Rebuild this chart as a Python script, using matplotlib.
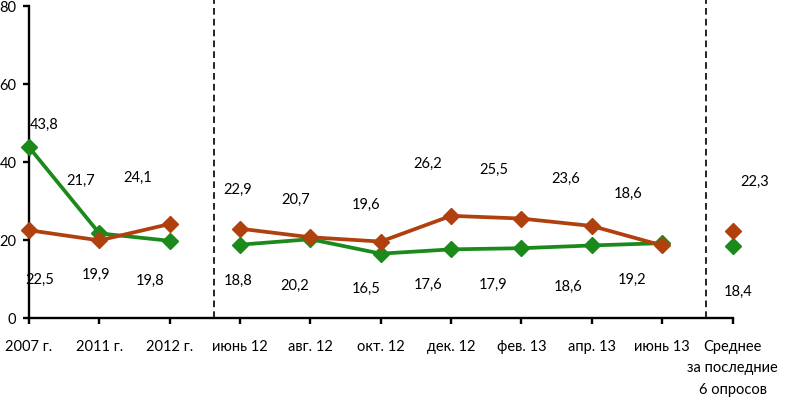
import matplotlib
matplotlib.use("Agg")
import matplotlib.pyplot as plt
from matplotlib import font_manager as fm
import numpy as np

categories = ["2007 г.", "2011 г.", "2012 г.", "июнь 12", "авг. 12", "окт. 12",
              "дек. 12", "фев. 13", "апр. 13", "июнь 13",
              "Среднее\nза последние\n6 опросов"]
green_values = [43.8, 21.7, 19.8, 18.8, 20.2, 16.5, 17.6, 17.9, 18.6, 19.2, 18.4]
red_values = [22.5, 19.9, 24.1, 22.9, 20.7, 19.6, 26.2, 25.5, 23.6, 18.6, 22.3]
y_ticks = [0, 20, 40, 60, 80]

# layout: line segments (start, stop) and dashed separators (category coords)
segments = [(0, 3), (3, 10), (10, 11)]
separators = [2.63, 9.63]

# label offsets in pixels (dx, dy upward-positive) for each series
green_off = [(15, 22), (-19, 52), (-20, -40), (-2, -36), (-16, -47), (-15, -35),
             (-23, -36), (-28, -37), (-24, -41), (-30, -37), (6, -46)]
red_off = [(11, -50), (-3, -35), (-32, 46), (-2, 39), (-15, 37), (-15, 37),
           (-23, 52), (-28, 49), (-26, 47), (-34, 52), (22, 49)]

names = {f.name for f in fm.fontManager.ttflist}
fam = ["Lato", "DejaVu Sans"] if "Lato" in names else ["DejaVu Sans"]
plt.rcParams["font.family"] = fam

GREEN = "#1b8a1b"
RED = "#b0410f"

W, H = 789, 398
fig = plt.figure(figsize=(W / 100, H / 100), dpi=100)
ax = fig.add_axes([29 / W, 1 - 318 / H, (732.5 - 29) / W, 312 / H])

x = np.arange(len(categories))
g = np.array(green_values)
r = np.array(red_values)

for a, b in segments:
    ax.plot(x[a:b], g[a:b], color=GREEN, lw=2.7, marker="D", ms=7.8,
            markeredgecolor=GREEN, zorder=3, clip_on=False)
for a, b in segments:
    ax.plot(x[a:b], r[a:b], color=RED, lw=2.7, marker="D", ms=7.8,
            markeredgecolor=RED, zorder=4, clip_on=False)

for sx in separators:
    ax.axvline(sx, color="black", lw=1.2, ls=(0, (4, 2.5)), zorder=1, clip_on=False,
               ymin=0, ymax=1.02)

def fmt(v):
    return f"{v:.1f}".replace(".", ",")

for i in range(len(categories)):
    for vals, offs in ((g, green_off), (r, red_off)):
        dx, dy = offs[i]
        ax.annotate(fmt(vals[i]), (x[i], vals[i]), xytext=(dx, dy),
                    textcoords="offset pixels", ha="center", va="center",
                    fontsize=10.5, color="black", zorder=5)

ax.set_xlim(0, 10)
ax.set_ylim(0, 80)
ax.set_yticks(y_ticks)
ax.set_yticklabels([str(t) for t in y_ticks])
ax.set_xticks(x)
ax.set_xticklabels(categories, linespacing=1.7)
for lbl in ax.get_xticklabels()[-1:]:
    lbl.set_x(10.08)

for s in ("top", "right"):
    ax.spines[s].set_visible(False)
for s in ("left", "bottom"):
    ax.spines[s].set_linewidth(1.7)
    ax.spines[s].set_color("black")
ax.tick_params(axis="both", direction="out", length=4, width=1.7, colors="black",
               labelsize=10.5)
ax.tick_params(axis="y", pad=5)
ax.tick_params(axis="x", pad=11.5)

fig.savefig("out.png", dpi=100)
